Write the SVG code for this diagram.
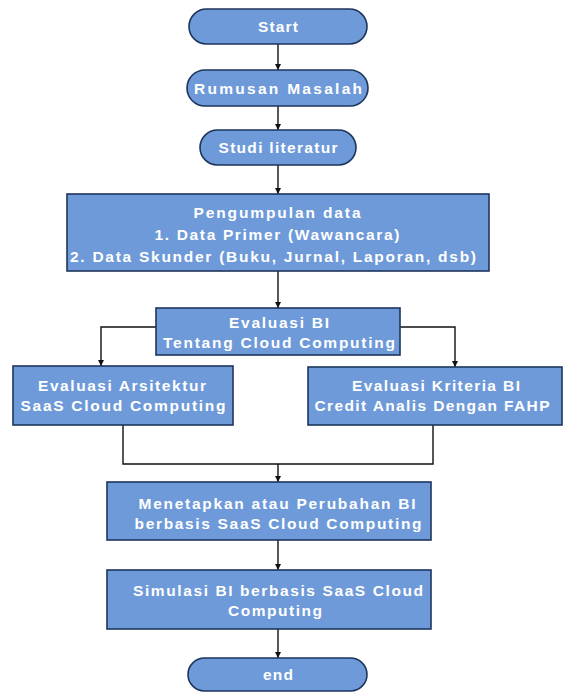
<svg xmlns="http://www.w3.org/2000/svg" width="563" height="697" viewBox="0 0 563 697">
  <defs>
    <marker id="arrow" viewBox="0 0 10 10" refX="10" refY="5" markerWidth="6" markerHeight="6" orient="auto" markerUnits="userSpaceOnUse">
      <path d="M0,0 L10,5 L0,10 z" fill="#111"/>
    </marker>
    <style>
      .shape { fill: #6e9ad9; stroke: #1d355c; stroke-width: 1.6; }
      .label { font-family: "Liberation Sans", Arial, sans-serif; font-weight: bold; font-size: 15.5px; fill: #ffffff; text-anchor: middle; }
      .wire { fill: none; stroke: #111; stroke-width: 1.4; }
    </style>
  </defs>
  <rect width="563" height="697" fill="#ffffff"/>

  <!-- connectors -->
  <g id="connectors">
    <line class="wire" x1="278" y1="44" x2="278" y2="70" marker-end="url(#arrow)"/>
    <line class="wire" x1="278" y1="106" x2="278" y2="130" marker-end="url(#arrow)"/>
    <line class="wire" x1="278" y1="165" x2="278" y2="194" marker-end="url(#arrow)"/>
    <line class="wire" x1="278" y1="271" x2="278" y2="308" marker-end="url(#arrow)"/>
    <polyline class="wire" points="156,327 101,327 101,366" marker-end="url(#arrow)"/>
    <polyline class="wire" points="400,327 455,327 455,367" marker-end="url(#arrow)"/>
    <polyline class="wire" points="123,425 123,464 433,464 433,425"/>
    <line class="wire" x1="278" y1="464" x2="278" y2="482" marker-end="url(#arrow)"/>
    <line class="wire" x1="278" y1="540" x2="278" y2="570" marker-end="url(#arrow)"/>
    <line class="wire" x1="278" y1="629" x2="278" y2="658" marker-end="url(#arrow)"/>
  </g>

  <!-- terminators and process steps -->
  <g id="start">
    <rect class="shape" x="189" y="9" width="178" height="35" rx="17.5"/>
    <text class="label" x="278" y="32" textLength="40" lengthAdjust="spacing">Start</text>
  </g>
  <g id="rumusan">
    <rect class="shape" x="187" y="70" width="181" height="36" rx="18"/>
    <text class="label" x="278" y="94" textLength="168" lengthAdjust="spacing">Rumusan Masalah</text>
  </g>
  <g id="studi">
    <rect class="shape" x="200" y="130" width="156" height="35" rx="17.5"/>
    <text class="label" x="278" y="153" textLength="119" lengthAdjust="spacing">Studi literatur</text>
  </g>
  <g id="pengumpulan">
    <rect class="shape" x="67" y="194" width="422" height="77"/>
    <text class="label" x="277" y="218" textLength="167" lengthAdjust="spacing">Pengumpulan data</text>
    <text class="label" x="277" y="240" textLength="245" lengthAdjust="spacing">1. Data Primer (Wawancara)</text>
    <text class="label" x="273" y="262" textLength="406" lengthAdjust="spacing">2. Data Skunder (Buku, Jurnal, Laporan, dsb)</text>
  </g>
  <g id="evaluasi-bi">
    <rect class="shape" x="156" y="308" width="244" height="47"/>
    <text class="label" x="279" y="328" textLength="100" lengthAdjust="spacing">Evaluasi BI</text>
    <text class="label" x="279" y="348" textLength="232" lengthAdjust="spacing">Tentang Cloud Computing</text>
  </g>
  <g id="evaluasi-arsitektur">
    <rect class="shape" x="13" y="366" width="220" height="59"/>
    <text class="label" x="122" y="391" textLength="168" lengthAdjust="spacing">Evaluasi Arsitektur</text>
    <text class="label" x="123" y="411" textLength="205" lengthAdjust="spacing">SaaS Cloud Computing</text>
  </g>
  <g id="evaluasi-kriteria">
    <rect class="shape" x="308" y="367" width="254" height="58"/>
    <text class="label" x="436" y="391" textLength="168" lengthAdjust="spacing">Evaluasi Kriteria BI</text>
    <text class="label" x="432" y="411" textLength="235" lengthAdjust="spacing">Credit Analis Dengan FAHP</text>
  </g>
  <g id="menetapkan">
    <rect class="shape" x="107" y="482" width="324" height="58"/>
    <text class="label" x="277" y="509" textLength="277" lengthAdjust="spacing">Menetapkan atau Perubahan BI</text>
    <text class="label" x="278" y="529" textLength="287" lengthAdjust="spacing">berbasis SaaS Cloud Computing</text>
  </g>
  <g id="simulasi">
    <rect class="shape" x="107" y="570" width="324" height="59"/>
    <text class="label" x="278" y="596" textLength="290" lengthAdjust="spacing">Simulasi BI berbasis SaaS Cloud</text>
    <text class="label" x="275" y="616" textLength="94" lengthAdjust="spacing">Computing</text>
  </g>
  <g id="end">
    <rect class="shape" x="188" y="658" width="179" height="33" rx="16.5"/>
    <text class="label" x="278" y="680" textLength="30" lengthAdjust="spacing">end</text>
  </g>
</svg>
